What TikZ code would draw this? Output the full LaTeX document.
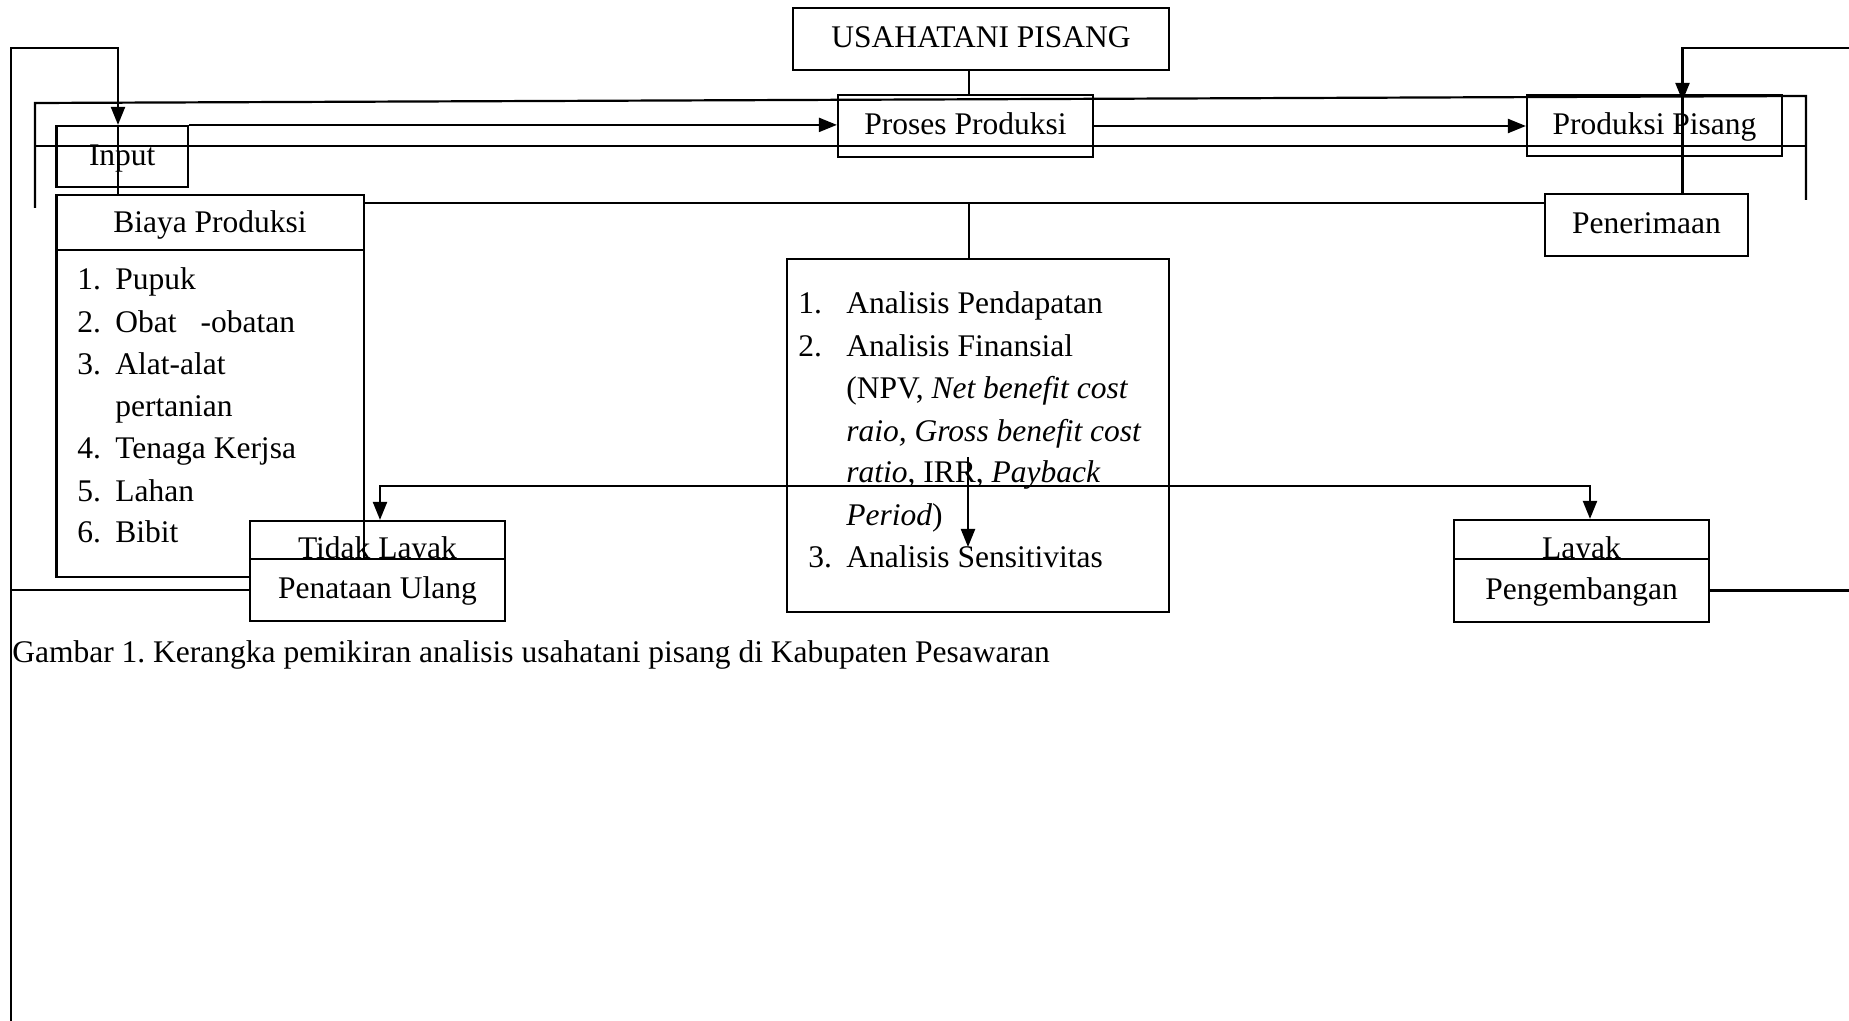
\documentclass[tikz,border=0pt]{standalone}
\usepackage{fontspec}
\setmainfont{Liberation Serif}
\frenchspacing
\usetikzlibrary{arrows.meta,calc}
\tikzset{
  box/.style={draw, line width=1.1pt, rectangle, inner sep=0pt, text height=11pt, text depth=2pt, align=center},
  plainbox/.style={draw, line width=1.1pt, rectangle, inner sep=0pt},
  conn/.style={draw, line width=1.1pt},
  tip/.tip={Triangle[length=9pt,width=7pt]},
  arr/.style={conn, -tip},
  txt/.style={inner sep=0pt, anchor=base west},
  ctxt/.style={inner sep=0pt, anchor=base},
}
\begin{document}
\begin{tikzpicture}[x=0.5pt,y=-0.5pt, font=\fontsize{15.75pt}{21pt}\selectfont]
\useasboundingbox (0,0) rectangle (1849,1021);
\fill[white] (0,0) rectangle (1849,1021);

% boxes
\node[box, minimum width=188pt, minimum height=31pt] (usaha) at (981,39) {USAHATANI PISANG};
\node[box, minimum width=127.5pt, minimum height=31pt] (proses) at (965.5,126) {Proses Produksi};
\node[box, minimum width=127.5pt, minimum height=30.5pt] (prodpis) at (1654.5,125.5) {Produksi Pisang};
\node[box, minimum width=65.75pt, minimum height=30.5pt] (input) at (122.25,156.5) {Input};
\node[plainbox, minimum width=153.75pt, minimum height=191pt] (biaya) at (210.25,386) {};
\node[box, minimum width=101.5pt, minimum height=31pt] (penerimaan) at (1646.5,225) {Penerimaan};
\node[plainbox, minimum width=191pt, minimum height=176.5pt] (analisis) at (978,435.5) {};

% Biaya Produksi content
\coordinate (bsep) at (0,250);
\draw[conn] (biaya.west |- bsep) -- (biaya.east |- bsep);
\node[ctxt] (biayaT) at (210,233) {Biaya Produksi};
\node[txt] (b1n) at (77,290) {1.};  \node[txt] (b1) at (115,290) {Pupuk};
\node[txt] (b2n) at (77,333) {2.};  \node[txt] (b2) at (115,333) {Obat\hspace{12pt}-obatan};
\node[txt] (b3n) at (77,375) {3.};  \node[txt] (b3) at (115,375) {Alat-alat};
\node[txt] (b3b) at (115,417) {pertanian};
\node[txt] (b4n) at (77,459) {4.};  \node[txt] (b4) at (115,459) {Tenaga Kerjsa};
\node[txt] (b5n) at (77,502) {5.};  \node[txt] (b5) at (115,502) {Lahan};
\node[txt] (b6n) at (77,543) {6.};  \node[txt] (b6) at (115,543) {Bibit};

% Analisis content
\node[txt] (a1n) at (798,314) {1.}; \node[txt] (a1) at (846,314) {Analisis Pendapatan};
\node[txt] (a2n) at (798,357) {2.}; \node[txt] (a2) at (846,357) {Analisis Finansial};
\node[txt] (a3) at (846,399) {(NPV, \textit{Net benefit cost}};
\node[txt] (a4) at (846,442) {\textit{raio, Gross benefit cost}};
\node[txt] (a5) at (846,483) {\textit{ratio}, IRR, \textit{Payback}};
\node[txt] (a6) at (846,526) {\textit{Period})};
\node[txt] (a7n) at (808,568) {3.}; \node[txt] (a7) at (846,568) {Analisis Sensitivitas};

% Tidak Layak / Penataan Ulang
\node[plainbox, minimum width=127.5pt, minimum height=19pt] (tidak) at (377.5,540) {};
\node[ctxt] (tidakT) at (377.5,559) {Tidak Layak};
\node[box, fill=white, minimum width=127.5pt, minimum height=31pt] (penataan) at (377.5,590) {Penataan Ulang};

% Layak / Pengembangan
\node[plainbox, minimum width=127.5pt, minimum height=19.5pt] (layak) at (1581.5,539.5) {};
\node[ctxt] (layakT) at (1581.5,559) {Layak};
\node[box, fill=white, minimum width=127.5pt, minimum height=31.5pt] (pengembangan) at (1581.5,590.5) {Pengembangan};

% caption
\node[txt] (caption) at (12,662) {Gambar 1. Kerangka pemikiran analisis usahatani pisang di Kabupaten Pesawaran};

% connectors
\coordinate (lb) at (11,1021);
\coordinate (c1) at (118,48);
\draw[arr] (lb) |- (c1) -- (c1 |- input.north);
\draw[conn] (c1 |- input.north) -- (c1 |- biaya.north);
\draw[conn] (penataan.west) -- (penataan.west -| lb);

\coordinate (rt) at (1849,48);
\coordinate (pp) at (1682.5,48);
\draw[arr] (rt) -- (pp) -- ($(pp |- prodpis.north)+(0,7)$);
\draw[conn] (pp |- prodpis.north) -- (pp |- penerimaan.north);
\draw[conn] (pengembangan.east) -- (pengembangan.east -| rt);

\coordinate (ul1) at (35,208);
\coordinate (ul2) at (35,103);
\coordinate (ul3) at (1806,96);
\coordinate (ul4) at (1806,200);
\draw[conn] (ul1) -- (ul2) -- (ul3) -- (ul4);
\coordinate (m1) at (35,146);
\coordinate (m2) at (1806,146);
\draw[conn] (m1) -- (m2);

\draw[arr] (input.north east) -- (proses.west |- input.north);
\draw[arr] (proses.east) -- (prodpis.west |- proses.east);

\coordinate (mx) at (969,0);
\draw[conn] (mx |- usaha.south) -- (mx |- proses.north);
\coordinate (h203) at (0,203);
\draw[conn] (biaya.east |- h203) -- (penerimaan.west |- h203);
\draw[conn] (mx |- h203) -- (mx |- analisis.north);

\coordinate (ta) at (380,486);
\coordinate (la) at (1590,486);
\draw[conn, tip-tip] (ta |- tidak.north) -- (ta) -- (la) -- (la |- layak.north);

\coordinate (ma) at (968,457);
\coordinate (mb) at (968,547);
\draw[arr] (ma) -- (mb);
\end{tikzpicture}
\end{document}
